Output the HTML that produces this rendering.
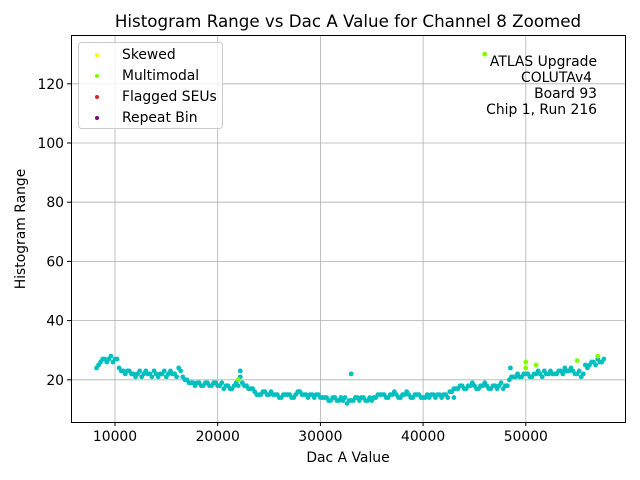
<!DOCTYPE html>
<html><head><meta charset="utf-8"><style>
body{margin:0;background:#fff}
svg{display:block;font-family:"DejaVu Sans","Liberation Sans",sans-serif}
</style></head><body>
<svg id="chart" width="640" height="480">
<rect width="640" height="480" fill="#fff"/>
<g id="grid"></g>
<g id="pts"></g>
<rect x="71.5" y="35.5" width="554" height="387" fill="none" stroke="#000" stroke-width="1"/>
<g id="ticks" font-size="13.9"></g>
<text x="348" y="27" text-anchor="middle" font-size="16.7">Histogram Range vs Dac A Value for Channel 8 Zoomed</text>
<text x="348" y="462" text-anchor="middle" font-size="13.9">Dac A Value</text>
<text transform="translate(25,229) rotate(-90)" text-anchor="middle" font-size="13.9">Histogram Range</text>
<g font-size="13.9" text-anchor="end">
<text x="597" y="66">ATLAS Upgrade</text>
<text x="592" y="82">COLUTAv4</text>
<text x="597" y="98">Board 93</text>
<text x="597" y="114">Chip 1, Run 216</text>
</g>
<g>
<rect x="78.5" y="42.5" width="144" height="86" rx="3" fill="#fff" fill-opacity="0.8" stroke="#ccc"/>
<g><circle cx="97" cy="55" r="2" fill="#ffff00"/><text x="122" y="59" font-size="13.9">Skewed</text></g>
<g><circle cx="97" cy="76" r="2" fill="#7fff00"/><text x="122" y="80" font-size="13.9">Multimodal</text></g>
<g><circle cx="97" cy="97" r="2" fill="#d62728"/><text x="122" y="101" font-size="13.9">Flagged SEUs</text></g>
<g><circle cx="97" cy="118" r="2" fill="#800080"/><text x="122" y="122" font-size="13.9">Repeat Bin</text></g>
</g>
</svg>
<script>
const dacValues=[8200,8600,9000,9400,9800,10200,10600,11000,11400,11800,12200,12600,13000,13400,13800,14200,14600,15000,15400,15800,16200,16600,17000,17400,17800,18200,18600,19000,19400,19800,20200,20600,21000,21400,21800,22200,22600,23000,23400,23800,24200,24600,25000,25400,25800,26200,26600,27000,27400,27800,28200,28600,29000,29400,29800,30200,30600,31000,31400,31800,32200,32600,33000,33400,33800,34200,34600,35000,35400,35800,36200,36600,37000,37400,37800,38200,38600,39000,39400,39800,40200,40600,41000,41400,41800,42200,42600,43000,43400,43800,44200,44600,45000,45400,45800,46200,46600,47000,47400,47800,48200,48600,49000,49400,49800,50200,50600,51000,51400,51800,52200,52600,53000,53400,53800,54200,54600,55000,55400,55800,56200,56600,57000,57400];
const rangeValues=[24,26,27,27,26,27,23,22,23,22,22,21,23,22,23,21,22,21,23,22,24,21,20,19,18,19,18,19,18,19,18,17,18,17,19,21,18,17,17,15,15,16,15,15,15,14,15,15,14,16,15,15,15,14,15,14,14,13,14,13,13,12,13,14,13,14,13,13,14,15,15,14,15,15,14,15,15,14,15,14,14,14,15,15,14,15,16,17,17,18,17,18,18,17,18,18,17,18,18,17,18,21,21,21,22,22,21,22,22,23,22,22,22,23,24,23,23,22,21,25,25,26,27,26];
const rangeValues2=[25,27,26,28,27,24,23,23,22,21,23,22,22,21,22,22,23,22,22,21,23,20,19,19,19,18,19,18,19,18,19,18,17,18,18,19,18,17,16,15,16,15,16,15,14,15,15,14,15,16,15,14,15,15,14,14,13,14,13,14,14,13,13,14,14,13,14,14,15,15,14,15,16,14,15,16,14,15,15,14,15,15,14,15,15,14,16,17,18,17,18,19,17,18,19,17,18,17,19,18,20,21,22,21,22,21,22,23,21,22,23,22,23,22,23,24,22,23,22,24,26,25,26,27];
const outlierDac=[33000,22200,43000,48500,53800];
const outlierRange=[22,23,14,24,23];
const multiDac=[46000,50000,50000,51000,55000,57000,22000];
const multiRange=[130,26,24,25,26.5,28,20];
const xTicks=[10000,20000,30000,40000,50000];
const yTicks=[20,40,60,80,100,120];
const X=v=>12.3+v*0.01027;
const Y=v=>439-v*2.96;
const NS="http://www.w3.org/2000/svg";
const grid=document.getElementById('grid'),ticks=document.getElementById('ticks'),pts=document.getElementById('pts');
function mk(tag,attrs,parent){const e=document.createElementNS(NS,tag);for(const k in attrs)e.setAttribute(k,attrs[k]);parent.appendChild(e);return e;}
xTicks.forEach(t=>{const x=X(t);
const g=mk('line',{x1:x,x2:x,y1:35,y2:422,stroke:'#b0b0b0','stroke-width':0.8},grid);


mk('line',{x1:x,x2:x,y1:422,y2:426,stroke:'#000'},ticks);
const tx=mk('text',{x:x,y:441,'text-anchor':'middle'},ticks);tx.textContent=t;

});
yTicks.forEach(t=>{const y=Y(t);
const g=mk('line',{x1:71,x2:625,y1:y,y2:y,stroke:'#b0b0b0','stroke-width':0.8},grid);


mk('line',{x1:67,x2:71,y1:y,y2:y,stroke:'#000'},ticks);
const tx=mk('text',{x:64,y:y+5,'text-anchor':'end'},ticks);tx.textContent=t;

});
function dots(xs,ys,col,name,off){xs.forEach((d,i)=>{const c=mk('circle',{cx:X(d+off),cy:Y(ys[i]),r:2.4,fill:col},pts);

});}
dots(dacValues,rangeValues,'#00bfbf','data-point',0);
dots(dacValues,rangeValues2,'#00bfbf','data-point',200);
dots(outlierDac,outlierRange,'#00bfbf','data-point',0);
dots(multiDac,multiRange,'#7fff00','multimodal-point',0);
</script>
</body></html>
